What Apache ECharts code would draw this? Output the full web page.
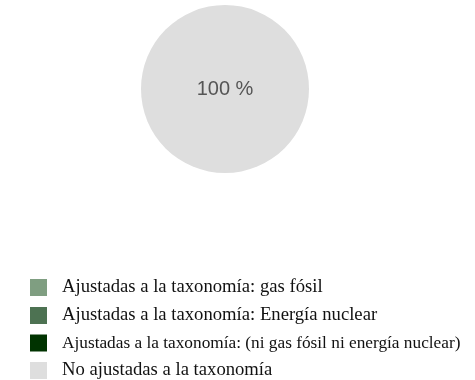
<!DOCTYPE html>
<html>
<head>
<meta charset="utf-8">
<script src="https://cdn.jsdelivr.net/npm/echarts@6/dist/echarts.min.js"></script>
<style>
  html, body { margin: 0; padding: 0; background: #fff; }
  #chart { width: 475px; height: 380px; }
</style>
</head>
<body>
<div id="chart"></div>
<script>
// Categories of the investment breakdown and their shares (%)
const categories = [
  'Ajustadas a la taxonomía: gas fósil',
  'Ajustadas a la taxonomía: Energía nuclear',
  'Ajustadas a la taxonomía: (ni gas fósil ni energía nuclear)',
  'No ajustadas a la taxonomía'
];
const shares = [0, 0, 0, 100];
const colors = ['#7f9e81', '#4d7252', '#003300', '#dedede'];

// The longest legend entry is set slightly tighter so it fits the width
const longest = categories.reduce((a, b) => (b.length > a.length ? b : a));

const chart = echarts.init(document.getElementById('chart'), null, { renderer: 'canvas' });

chart.setOption({
  animation: false,
  color: colors,
  legend: {
    orient: 'vertical',
    left: 30,
    top: 278,
    height: 160,
    padding: 0,
    itemWidth: 17,
    itemHeight: 17,
    itemGap: 9,
    icon: 'rect',
    selectedMode: false,
    formatter: name => (name === longest ? '{tight|' + name + '}' : name),
    textStyle: {
      fontFamily: 'Liberation Serif',
      fontSize: 18.67,
      lineHeight: 18,
      color: '#111',
      padding: [0, 0, 0, 10],
      rich: {
        tight: {
          fontFamily: 'Liberation Serif',
          fontSize: 17.3,
          lineHeight: 18,
          color: '#111'
        }
      }
    },
    data: categories
  },
  series: [{
    type: 'pie',
    center: [225, 89],
    radius: 84,
    startAngle: 90,
    silent: true,
    label: {
      show: true,
      position: 'center',
      fontFamily: 'Liberation Sans',
      fontSize: 20,
      color: '#555',
      formatter: p => (p.value > 0 ? p.value + ' %' : '')
    },
    labelLine: { show: false },
    itemStyle: { borderWidth: 0 },
    data: categories.map((name, i) => ({ name, value: shares[i] }))
  }]
});
</script>
</body>
</html>
